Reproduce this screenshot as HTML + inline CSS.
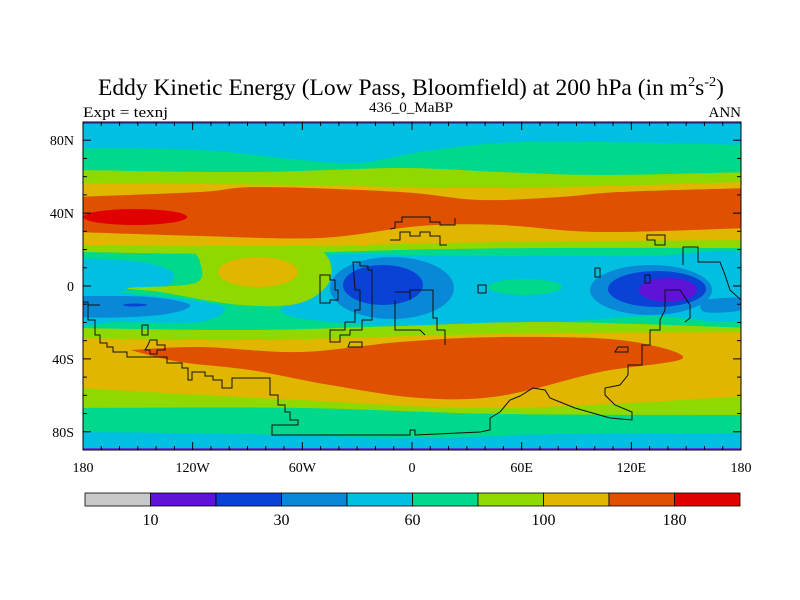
<!DOCTYPE html>
<html><head><meta charset="utf-8"><style>
html,body{margin:0;padding:0;background:#fff;}
svg{display:block;font-family:"Liberation Serif",serif;}
</style></head><body>
<svg id="chart" width="800" height="600" viewBox="0 0 800 600">
<text x="411" y="95" font-size="23" text-anchor="middle" textLength="626" lengthAdjust="spacingAndGlyphs">Eddy Kinetic Energy (Low Pass, Bloomfield) at 200 hPa (in m<tspan font-size="14" dy="-9">2</tspan><tspan dy="9">s</tspan><tspan font-size="14" dy="-9">-2</tspan><tspan dy="9">)</tspan></text>
<text x="83" y="117" font-size="15" textLength="85" lengthAdjust="spacingAndGlyphs">Expt = texnj</text>
<text x="411" y="112" font-size="15" text-anchor="middle" textLength="84" lengthAdjust="spacingAndGlyphs">436_0_MaBP</text>
<text x="741" y="117" font-size="15" text-anchor="end">ANN</text>
<g id="map"></g>
<g id="coast" fill="none" stroke="#111" stroke-width="1"></g>
<g id="axes"></g>
<g id="cbar"></g>
</svg>
<script>
const levels = [10, 20, 30, 45, 60, 80, 100, 140, 180];
const levelLabels = ["10", "30", "60", "100", "180"];
const colors = ["#c8c8c8","#5f12d8","#0a42d6","#0a88d8","#00bfe0","#00d98c","#8fd800","#e0b600","#df5000","#e00000"];
const xTickLabels = ["180","120W","60W","0","60E","120E","180"];
const xTickLons = [-180,-120,-60,0,60,120,180];
const yTickLabels = ["80N","40N","0","40S","80S"];
const yTickLats = [80,40,0,-40,-80];

const NS="http://www.w3.org/2000/svg";
const X0=83,X1=741,Y0=122,Y1=450;
const lonX=l=>X0+(l+180)/360*(X1-X0);
const latY=l=>Y0+(90-l)/180*(Y1-Y0);
function mk(tag,attrs,parent){const e=document.createElementNS(NS,tag);for(const k in attrs)e.setAttribute(k,attrs[k]);parent.appendChild(e);return e;}
function smooth(pts){let d="";for(let i=0;i<pts.length-1;i++){const p0=pts[Math.max(0,i-1)],p1=pts[i],p2=pts[i+1],p3=pts[Math.min(pts.length-1,i+2)];
const c1=[p1[0]+(p2[0]-p0[0])/6,p1[1]+(p2[1]-p0[1])/6],c2=[p2[0]-(p3[0]-p1[0])/6,p2[1]-(p3[1]-p1[1])/6];
d+=` C${c1[0]},${c1[1]} ${c2[0]},${c2[1]} ${p2[0]},${p2[1]}`;}return d;}
const map=document.getElementById('map');
mk('clipPath',{id:'mc'},map).appendChild(document.createElementNS(NS,'rect'));
const cr=map.querySelector('clipPath rect');cr.setAttribute('x',X0);cr.setAttribute('y',Y0);cr.setAttribute('width',X1-X0);cr.setAttribute('height',Y1-Y0);
const g=mk('g',{'clip-path':'url(#mc)'},map);
function band(top,bot,c,name){const b=bot.slice().reverse();const d=`M${top[0][0]},${top[0][1]}`+smooth(top)+` L${b[0][0]},${b[0][1]}`+smooth(b)+"Z";
const p=mk('path',{d:d,fill:colors[c]},g);}
function ell(cx,cy,rx,ry,c,name){const e=mk('ellipse',{cx,cy,rx,ry,fill:colors[c]},g);}
function blob(pts,c,name){const q=pts.concat([pts[0]]);const d=`M${q[0][0]},${q[0][1]}`+smooth(q)+"Z";const p=mk('path',{d,fill:colors[c]},g);}
const bg=mk('rect',{x:X0,y:Y0,width:X1-X0,height:Y1-Y0,fill:colors[4]},g);

band([[75,148],[200,150],[300,160],[360,163],[420,152],[500,143],[600,142],[750,145]],[[75,432],[250,434],[420,438],[560,434],[750,433]],5,'green-band');
blob([[75,258],[140,262],[172,272],[165,287],[120,292],[190,300],[225,308],[200,322],[120,322],[75,320]],4,'cyan-west-tropics');
blob([[295,256],[360,254],[450,256],[560,256],[650,256],[750,255],[750,318],[650,316],[560,322],[450,328],[330,322],[282,312],[300,290],[290,270]],4,'cyan-central-tropics');
band([[75,170],[250,172],[400,168],[500,172],[600,175],[750,172]],[[75,252],[250,254],[400,250],[550,248],[750,248]],6,'ygreen-nh');
band([[75,328],[250,330],[400,326],[550,322],[750,328]],[[75,408],[300,408],[500,414],[750,415]],6,'ygreen-sh');
blob([[190,248],[260,244],[320,250],[330,280],[300,303],[240,305],[160,292],[128,288],[195,283],[200,262]],6,'ygreen-tropics');
ell(258,272,40,15,7,'gold-tropics');
band([[75,183],[300,185],[500,188],[750,182]],[[75,245],[300,246],[500,242],[750,240]],7,'gold-nh');
band([[75,338],[250,340],[500,334],[750,332]],[[75,388],[300,400],[500,408],[750,396]],7,'gold-sh');
band([[75,197],[200,192],[260,187],[400,192],[480,200],[560,197],[620,192],[750,188]],[[75,232],[200,236],[320,238],[420,226],[500,225],[600,232],[750,228]],8,'orange-nh');
ell(135,217,52,8,9,'red-nh-max');
blob([[130,350],[200,347],[300,352],[400,342],[500,337],[620,340],[683,358],[600,372],[500,396],[420,398],[330,385],[250,370],[180,362]],8,'orange-sh');
blob([[83,296],[150,297],[190,305],[160,315],[83,317],[75,305]],3,'blue-west');
ell(135,305,12,1.5,2,'darkblue-west');
ell(392,288,62,31,3,'blue-africa');
ell(383,285,40,20,2,'darkblue-africa');
ell(525,287,37,8,5,'green-indian');
ell(651,290,61,25,3,'blue-pacific');
blob([[700,300],[741,298],[741,310],[705,312]],3,'blue-pacific-east');
ell(657,289,49,18,2,'darkblue-pacific');
ell(668,290,29,12,1,'purple-pacific');
mk('rect',{x:X0,y:Y0,width:X1-X0,height:2,fill:"#5f40d8"},g);
mk('rect',{x:X0,y:Y1-2,width:X1-X0,height:2,fill:"#5f40d8"},g);
const coast=document.getElementById('coast');
const coastLines=[
"M83,302 L88,302 L88,320 L95,320 L95,335 L100,335 L100,343 L107,343 L107,347 L113,347 L113,352 L127,352 L127,357 L167,357 L167,363 L182,363 L182,368 L188,368 L188,380 L192,380 L192,372 L205,372 L205,376 L213,376 L213,380 L222,380 L222,388 L232,388 L232,378 L270,378 L270,395 L278,395 L278,405 L285,405 L285,412 L290,412 L290,420 L298,420 L298,425 L272,425 L272,435 L410,435 L410,430 L415,430 L415,435 L480,432 L490,430 L490,418 L500,412 L510,400 L520,396 L533,388 L545,390 L550,398 L560,402 L575,408 L610,418 L632,420 L632,412 L615,405 L605,395 L605,388 L620,385 L628,375 L628,365 L642,365 L642,345 L650,345 L650,330 L660,330 L660,320 L665,310 L665,290 L680,290 L690,305 L690,318 L685,322",
"M390,229 L395,228 L395,222 L402,222 L402,217 L430,217 L430,222 L440,222 L440,225 L455,225 L455,218",
"M390,240 L400,240 L400,232 L410,232 L410,236 L420,236 L420,232 L430,232 L430,236 L440,236 L440,245 L447,245",
"M320,303 L320,275 L330,275 L330,280 L335,280 L335,290 L338,290 L338,300 L330,300 L330,303 Z",
"M353,262 L360,262 L360,266 L368,266 L368,270 L372,270 L372,320 L362,320 L362,330 L350,330 L350,335 L340,335 L340,342 L330,342 L330,330 L345,330 L345,322 L355,322 L355,310 L360,310 L360,290 L355,290 Z",
"M410,300 L410,290 L433,290 L433,318 L437,318 L437,330 L445,330 L445,345",
"M395,292 L410,292 M395,300 L395,330 L420,330 L425,335",
"M683,265 L683,247 L698,247 L698,262 L720,262 L725,275 L730,290 L741,300",
"M647,235 L647,240 L655,240 L655,245 L665,245 L665,235 Z",
"M142,325 L148,325 L148,335 L142,335 Z",
"M148,345 L150,340 L157,340 L157,345 L165,345 L165,350 L157,350 L157,354 L150,354 L150,350 L145,350 Z",
"M478,285 L486,285 L486,293 L478,293 Z",
"M645,275 L650,275 L650,283 L645,283 Z",
"M615,352 L628,352 L628,347 L618,347 Z",
"M88,305 L100,305 M350,342 L362,342 L362,347 L348,347 Z",
"M595,268 L600,268 L600,277 L595,277 Z"
];
coastLines.forEach((d,i)=>{const p=mk('path',{d},coast);});
const ax=document.getElementById('axes');
const frame=mk('rect',{x:X0,y:Y0,width:X1-X0,height:Y1-Y0,fill:"none",stroke:"#000","stroke-width":1},ax);

for(let l=-180;l<=180;l+=10){const x=lonX(l);const len=l%60===0?8:4;
mk('line',{x1:x,y1:Y0,x2:x,y2:Y0+len,stroke:"#000"},ax);mk('line',{x1:x,y1:Y1,x2:x,y2:Y1-len,stroke:"#000"},ax);}
for(let l=-90;l<=90;l+=10){const y=latY(l);const len=(l%40===0&&Math.abs(l)<=80)?8:4;
mk('line',{x1:X0,y1:y,x2:X0+len,y2:y,stroke:"#000"},ax);mk('line',{x1:X1,y1:y,x2:X1-len,y2:y,stroke:"#000"},ax);}
xTickLabels.forEach((t,i)=>{const e=mk('text',{x:lonX(xTickLons[i]),y:472,'font-size':14,'text-anchor':'middle'},ax);e.textContent=t;});
yTickLabels.forEach((t,i)=>{const e=mk('text',{x:74,y:latY(yTickLats[i])+5,'font-size':14,'text-anchor':'end'},ax);e.textContent=t;});
const cb=document.getElementById('cbar');
const CB0=85,CB1=740,CBY=493,CBH=13,w=(CB1-CB0)/colors.length;
colors.forEach((c,i)=>{const r=mk('rect',{x:CB0+i*w,y:CBY,width:w,height:CBH,fill:c,stroke:"#000","stroke-width":0.8},cb);});
levelLabels.forEach((t,i)=>{const idx=levels.indexOf(+t);const e=mk('text',{x:CB0+(idx+1)*w,y:525,'font-size':16,'text-anchor':'middle'},cb);e.textContent=t;});
</script>
</body></html>
